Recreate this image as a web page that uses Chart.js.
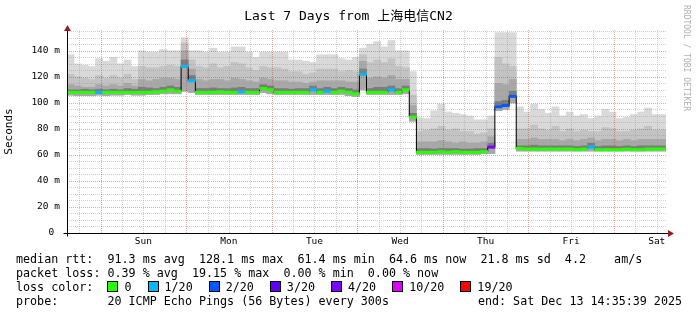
<!DOCTYPE html>
<html lang="en">
<head>
<meta charset="UTF-8">
<title>Last 7 Days from 上海电信CN2</title>
<script src="https://cdn.jsdelivr.net/npm/chart.js"></script>
<style>
    html, body { margin: 0; padding: 0; background: #fff; overflow: hidden; }
    #wrap { position: relative; width: 697px; height: 315px; font-family: "DejaVu Sans Mono", monospace; color: #000; }
    #chart { position: absolute; left: 0; top: 0; }
    #title { position: absolute; left: 0; top: 5px; width: 697px; text-align: center; font-size: 13px;
             font-family: "DejaVu Sans Mono", "Noto Sans CJK SC", monospace; }
    #brand { position: absolute; left: 691px; top: 5px; transform-origin: 0 0; transform: rotate(90deg);
             font-size: 8px; color: #b0b0b0; white-space: pre; }
    .legend { position: absolute; left: 16px; width: 666px; font-size: 11.7px; line-height: 14px; white-space: pre; }
    .box { display: inline-block; width: 9px; height: 9px; border: 1px solid #000; vertical-align: -1px; margin-right: 6px; }
    .item { margin-right: 16px; }
    .right { position: absolute; right: 0; top: 0; }
</style>
</head>
<body>
<div id="wrap">
    <canvas id="chart" width="697" height="315"></canvas>
    <div id="title">Last 7 Days from 上海电信CN2</div>
    <div id="brand">RRDTOOL / TOBI OETIKER</div>
    <div class="legend" style="top:252px">median rtt:  91.3 ms avg  128.1 ms max  61.4 ms min  64.6 ms now  21.8 ms sd  4.2    am/s</div>
    <div class="legend" style="top:266px">packet loss: 0.39 % avg  19.15 % max  0.00 % min  0.00 % now</div>
    <div class="legend" id="lossLegend" style="top:280px">loss color:  </div>
    <div class="legend" style="top:294px">probe:       20 ICMP Echo Pings (56 Bytes) every 300s<span class="right">end: Sat Dec 13 14:35:39 2025</span></div>
</div>

<script>
    // one column = 2 hours, graph spans 168 hours ending Sat Dec 13 14:35:39
    const median = [
        108, 108, 108, 108, 108, 108, 108, 108, 108, 108,
        108, 108, 108.5, 109, 110, 109, 128, 117, 108, 108,
        108, 108.5, 108, 108, 108.5, 108, 108, 111, 110, 108,
        108, 108, 108, 108, 110, 108, 109, 108, 109, 108,
        107, 122, 108, 108, 108, 110, 108, 110, 89, 62,
        62, 62, 62.5, 62, 62.5, 62, 62, 62, 62.5, 66,
        97, 98, 105, 65, 64.5, 64.5, 64.5, 64.5, 64.5, 64.5,
        64.5, 64, 64.5, 66, 64, 64, 64, 64, 64.5, 64,
        64, 64.5, 64.5, 64.5
    ];
    const lost = [
        0, 0, 0, 0, 1, 0, 0, 0, 0, 0,
        0, 0, 0, 0, 0, 0, 1, 1, 0, 0,
        0, 0, 0, 0, 1, 0, 0, 0, 0, 0,
        0, 0, 0, 0, 1, 0, 1, 0, 0, 0,
        0, 1, 0, 0, 0, 1, 0, 0, 0, 0,
        0, 0, 0, 0, 0, 0, 0, 0, 0, 4,
        2, 2, 2, 0, 0, 0, 0, 0, 0, 0,
        0, 0, 0, 1, 0, 0, 0, 0, 0, 0,
        0, 0, 0, 0
    ];
    const pingMin = [
        106, 105.5, 105.5, 105.5, 106, 105.5, 106, 106, 106.5, 106,
        106, 106.5, 106.5, 107, 107, 107, 109, 108, 106.5, 106.5,
        106.5, 106.5, 106.5, 106.5, 106.5, 106.5, 106.5, 108, 107, 106.5,
        106.5, 106.5, 106.5, 106.5, 106.5, 106.5, 106.5, 106.5, 106.5, 105.5,
        105, 110, 106.5, 106.5, 106.5, 106.5, 106.5, 107, 86, 60.5,
        60.5, 60.5, 60.5, 60.5, 60.5, 60.5, 60.5, 60.5, 61, 61,
        94, 95, 100, 63, 63, 63, 63, 63, 63, 63,
        63, 63, 63, 63, 63, 63, 63, 63, 63, 63,
        63, 63, 63, 63
    ];
    const smokeInner = [
        110, 110, 110.5, 110, 110.5, 110, 110.5, 110, 111, 110.5,
        112, 111.5, 111, 112, 113, 112, 133, 121, 111, 111,
        111.5, 111, 111, 111.5, 112, 111, 111, 114, 113, 111,
        111, 110.5, 111, 111, 113, 111, 112, 111, 112, 111,
        110, 126, 111, 112, 112, 113, 111, 113, 92, 65,
        65, 64.5, 65, 65, 65, 64.5, 64.5, 65, 65, 69,
        101, 102, 109, 67, 67, 67.5, 67, 67, 67, 67,
        67, 66.5, 67, 69, 66.5, 67, 67, 66.5, 67, 66.5,
        67, 67, 67, 67
    ];
    const smokeMid = [
        114, 113, 112, 112, 114, 113, 114, 113, 115, 113,
        118, 117, 118, 119, 119, 118, 140, 126, 118, 117,
        118, 118, 117, 119, 118, 117, 116, 119, 118, 117,
        117, 116, 116, 115, 116, 117, 117, 117, 117, 116,
        116, 132, 119, 120, 119, 121, 118, 118, 98, 70,
        70, 70, 71, 70, 69, 70, 69, 69, 70, 74,
        115, 114, 118, 72, 72, 73, 72, 72, 72, 71,
        72, 71, 72, 73, 71, 72, 72, 71, 72, 71,
        72, 72, 72, 72
    ];
    const smokeOuter = [
        122, 120, 119, 118, 121, 119, 121, 119, 122, 118,
        128, 127, 127, 128, 129, 128, 146, 133, 128, 127,
        130, 127, 128, 131, 130, 127, 125, 128, 127, 127,
        126, 124, 124, 122, 123, 126, 126, 126, 124, 125,
        124, 137, 131, 133, 131, 134, 128, 127, 106, 78,
        79, 80, 82, 79, 80, 78, 78, 76, 77, 80,
        135, 130, 128, 80, 80, 83, 80, 79, 82, 78,
        80, 78, 79, 78, 78, 81, 80, 78, 78, 79,
        80, 82, 79, 79
    ];
    const pingMax = [
        137, 130, 129, 128, 134, 132, 135, 130, 133, 128,
        140, 139, 139, 141, 140, 140, 150, 140, 140, 139,
        142, 139, 139, 143, 143, 139, 135, 139, 139, 139,
        139, 133, 133, 132, 131, 137, 137, 137, 134, 133,
        135, 142, 145, 147, 143, 148, 140, 140, 124, 88.5,
        88, 94, 99, 93, 92, 91, 90, 87, 87, 90,
        154, 154, 154, 97, 93, 99, 95, 92, 97, 90,
        93, 90, 91, 88, 90, 95, 93, 88, 89, 91,
        93, 96, 91, 91
    ];

    const lossTiers = [0, 1, 2, 3, 4, 10, 19];
    const lossLabels = ['0', '1/20', '2/20', '3/20', '4/20', '10/20', '19/20'];
    const lossColors = ['#26ff00', '#00b8ff', '#0059ff', '#5e00ff', '#7e00ff', '#dd00ff', '#ff0000'];

    const dayLabels = ['Sun', 'Mon', 'Tue', 'Wed', 'Thu', 'Fri', 'Sat'];
    const firstMidnight = 9.406;   // hours from graph start (Sat 14:35:39) to Sun 00:00
    const yTicks = [0, 20, 40, 60, 80, 100, 120, 140];

    // legend boxes
    const lossLegend = document.getElementById('lossLegend');
    lossLabels.forEach((lbl, i) => {
        const item = document.createElement('span');
        item.className = 'item';
        item.innerHTML = '<span class="box" style="background:' + lossColors[i] + '"></span>' + lbl;
        lossLegend.appendChild(item);
    });

    function lossColor(n) {
        for (let i = 0; i < lossTiers.length; i++) {
            if (n <= lossTiers[i]) return lossColors[i];
        }
        return lossColors[lossColors.length - 1];
    }

    const hours = median.map((_, i) => i * 2 + 1);
    const band = (lo, hi) => hours.map((h, i) => ({ x: h, y: [lo[i], hi[i]] }));

    const barOpts = { type: 'bar', grouped: false, barPercentage: 1, categoryPercentage: 1, borderWidth: 0 };
    const MEDIAN_LINE = 3;

    // grid over the smoke, under the median line (rrdtool style)
    const rrdGrid = {
        id: 'rrdGrid',
        beforeDatasetDraw(chart, args) {
            if (args.index !== MEDIAN_LINE) return;
            const { ctx, chartArea: a, scales: { x, y } } = chart;
            ctx.save();
            ctx.lineWidth = 1;
            ctx.setLineDash([1, 1]);
            for (let v = 5; v <= 155; v += 5) {
                const py = Math.round(y.getPixelForValue(v)) + 0.5;
                ctx.strokeStyle = v % 20 === 0 ? 'rgba(190,60,60,0.45)' : 'rgba(150,150,150,0.45)';
                ctx.beginPath(); ctx.moveTo(a.left, py); ctx.lineTo(a.right, py); ctx.stroke();
            }
            for (let h = firstMidnight - 6; h < 168; h += 6) {
                const px = Math.round(x.getPixelForValue(h)) + 0.5;
                const major = Math.abs(((h - firstMidnight) % 24 + 24) % 24) < 0.01;
                ctx.strokeStyle = major ? 'rgba(190,60,60,0.45)' : 'rgba(150,150,150,0.45)';
                ctx.beginPath(); ctx.moveTo(px, a.top); ctx.lineTo(px, a.bottom); ctx.stroke();
            }
            ctx.restore();
        },
        afterDraw(chart) {
            const { ctx, chartArea: a } = chart;
            const bx = Math.round(a.left) + 0.5, by = Math.round(a.bottom) + 0.5;
            ctx.save();
            ctx.strokeStyle = '#000';
            ctx.lineWidth = 1;
            ctx.beginPath();
            ctx.moveTo(bx - 4, by); ctx.lineTo(a.right + 3, by);
            ctx.moveTo(bx, by + 3); ctx.lineTo(bx, a.top - 2);
            ctx.stroke();
            ctx.fillStyle = '#9b1c1c';
            ctx.beginPath();
            ctx.moveTo(a.right + 8, by); ctx.lineTo(a.right + 2, by - 3.5); ctx.lineTo(a.right + 2, by + 3.5);
            ctx.closePath(); ctx.fill();
            ctx.beginPath();
            ctx.moveTo(bx, a.top - 5); ctx.lineTo(bx - 3.5, a.top + 1); ctx.lineTo(bx + 3.5, a.top + 1);
            ctx.closePath(); ctx.fill();
            ctx.restore();
        }
    };

    const tickFont = { family: 'DejaVu Sans Mono', size: 9.5 };

    new Chart(document.getElementById('chart'), {
        type: 'bar',
        data: {
            datasets: [
                Object.assign({ data: band(pingMin, pingMax), backgroundColor: '#d9d9d9', order: 10 }, barOpts),
                Object.assign({ data: band(pingMin, smokeOuter), backgroundColor: '#c3c3c3', order: 9 }, barOpts),
                Object.assign({ data: band(pingMin, smokeMid), backgroundColor: '#a8a8a8', order: 8 }, barOpts),
                {
                    type: 'line',
                    data: hours.map((h, i) => ({ x: h, y: median[i] })),
                    borderColor: '#000',
                    borderWidth: 1,
                    stepped: 'middle',
                    pointRadius: 0,
                    order: 2
                },
                Object.assign({
                    data: hours.map((h, i) => ({ x: h, y: [median[i] - 0.9, median[i] + 0.9] })),
                    backgroundColor: lost.map(lossColor),
                    order: 1
                }, barOpts),
                Object.assign({ data: band(median, smokeInner), backgroundColor: '#7c7c7c', order: 7 }, barOpts)
            ]
        },
        options: {
            responsive: false,
            animation: false,
            events: [],
            layout: { padding: { left: 0, right: 31, top: 30, bottom: 62 } },
            plugins: { legend: { display: false }, tooltip: { enabled: false } },
            scales: {
                x: {
                    type: 'linear',
                    min: 0,
                    max: 168,
                    offset: false,
                    grid: { display: false, drawTicks: false, offset: false },
                    border: { display: false },
                    afterBuildTicks: (s) => { s.ticks = dayLabels.map((_, k) => ({ value: firstMidnight + 12 + 24 * k })); },
                    afterFit: (s) => { s.height = 20; },
                    ticks: {
                        autoSkip: false,
                        maxRotation: 0,
                        padding: 3,
                        color: '#000',
                        font: tickFont,
                        callback: (v, i) => dayLabels[i]
                    }
                },
                y: {
                    min: 0,
                    max: 156,
                    grid: { display: false, drawTicks: false },
                    border: { display: false },
                    afterBuildTicks: (s) => { s.ticks = yTicks.map((v) => ({ value: v })); },
                    afterFit: (s) => { s.width = 67; },
                    ticks: {
                        padding: 7,
                        color: '#000',
                        font: tickFont,
                        callback: (v) => (v === 0 ? '0 ' : v + ' m')
                    },
                    title: {
                        display: true,
                        text: 'Seconds',
                        color: '#000',
                        font: { family: 'DejaVu Sans Mono', size: 11 },
                        padding: { top: 3, bottom: 0 }
                    }
                }
            }
        },
        plugins: [rrdGrid]
    });
</script>
</body>
</html>
